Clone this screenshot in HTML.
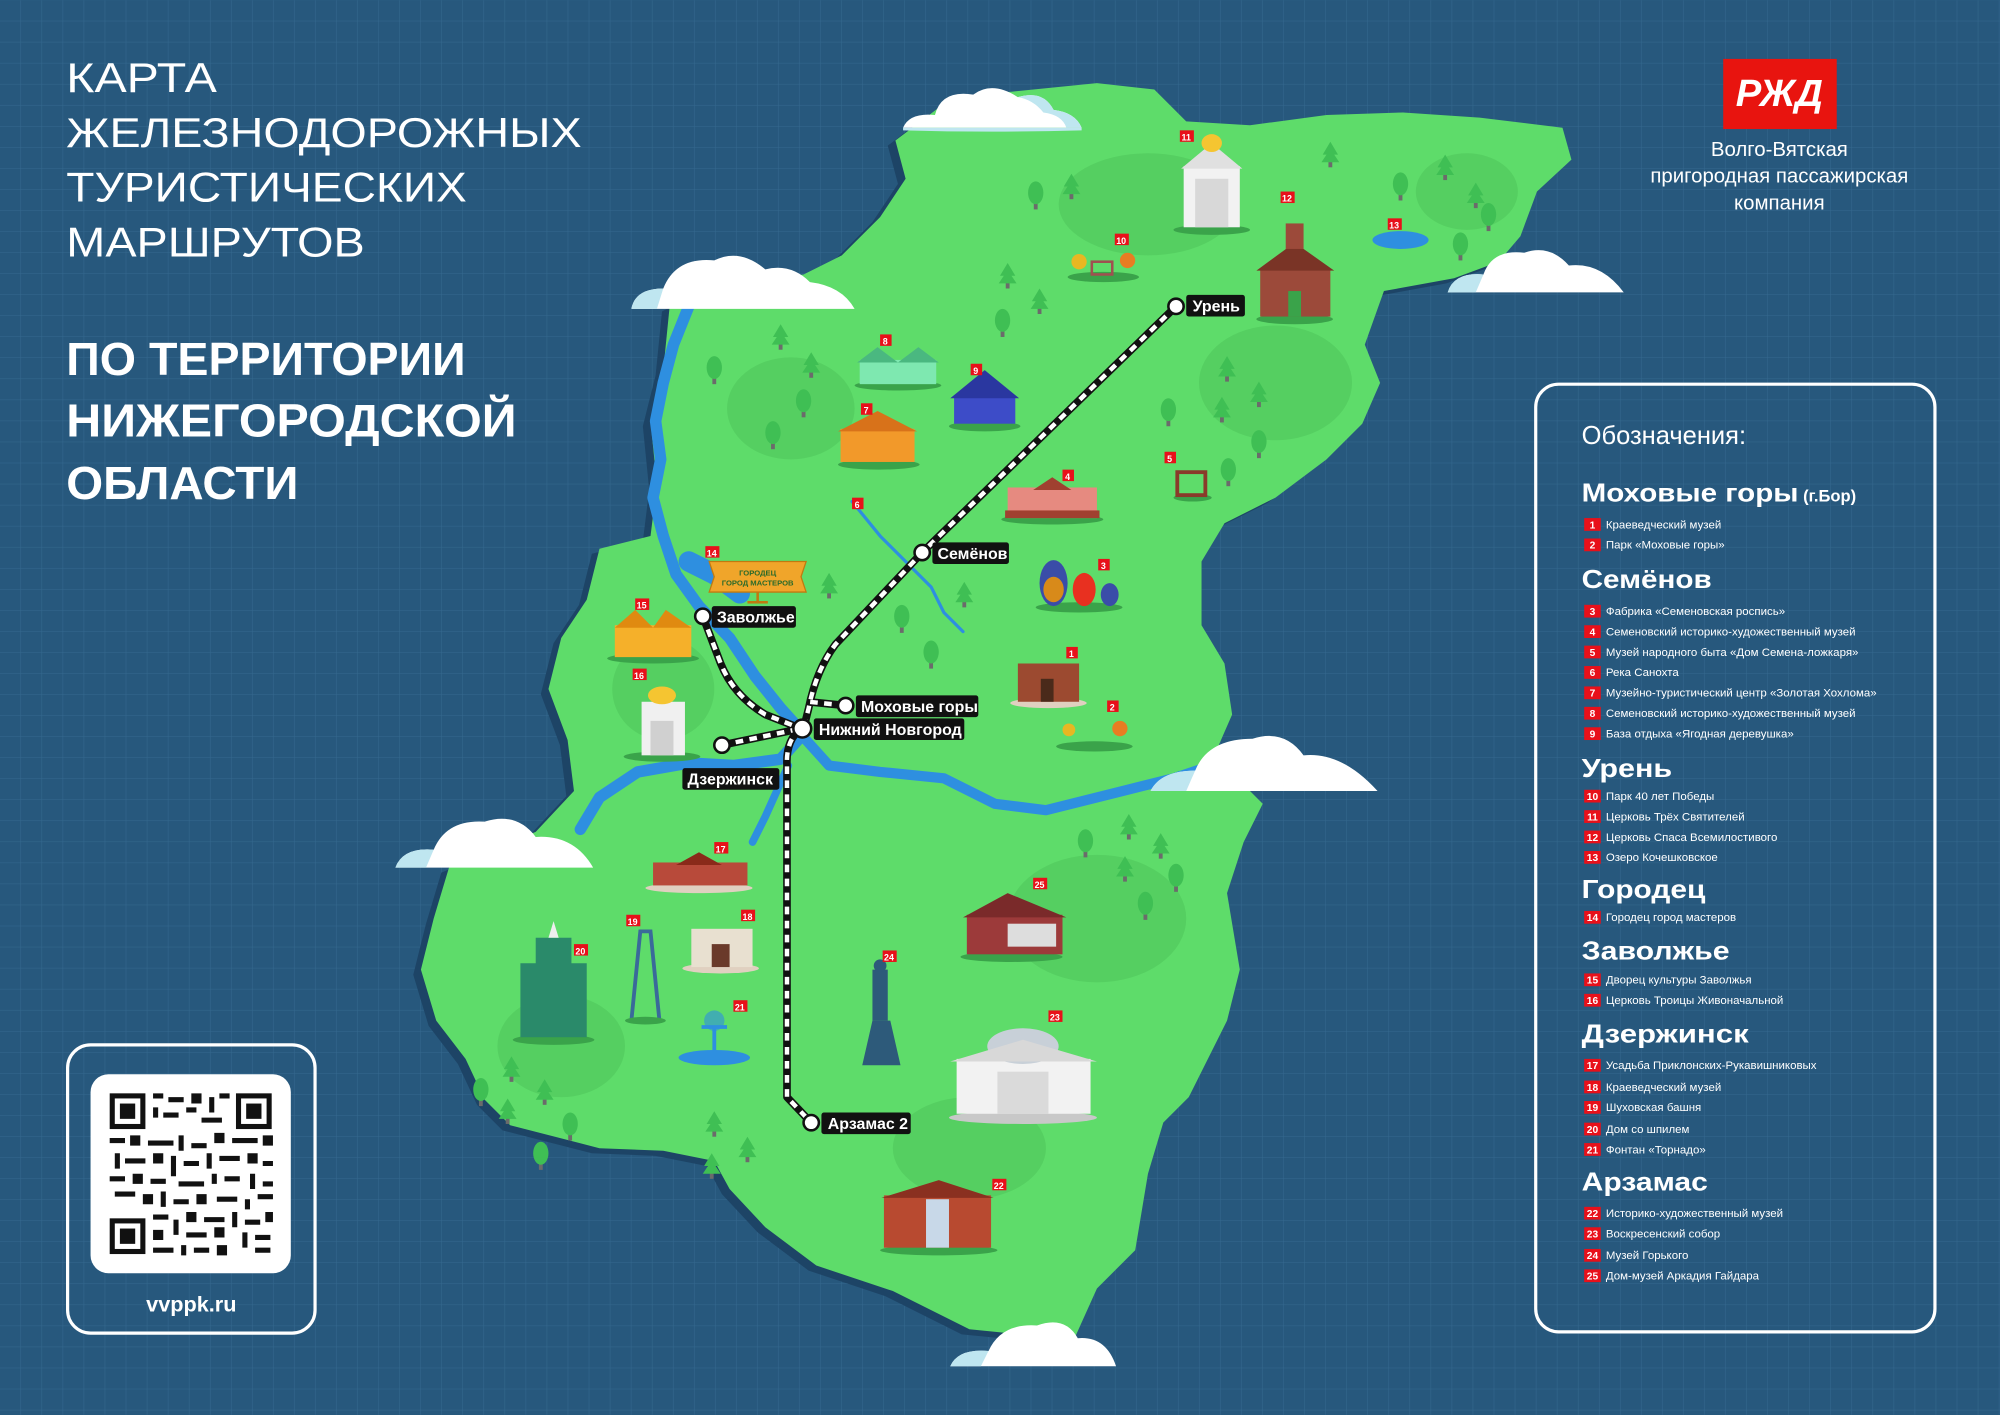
<!DOCTYPE html>
<html><head><meta charset="utf-8"><style>
html,body{margin:0;padding:0;background:#27587d;}
svg{display:block}
text{font-family:"Liberation Sans","DejaVu Sans",sans-serif;}
</style></head><body>
<svg width="2000" height="1415" viewBox="0 0 1568 1109" xmlns="http://www.w3.org/2000/svg">
<defs>
<pattern id="g" width="16.5" height="16.5" patternUnits="userSpaceOnUse">
<path d="M16.5 0V16.5M0 16.5H16.5" stroke="#35698f" stroke-width="0.8" fill="none"/>
</pattern>
<g id="tree"><rect x="-1.5" y="0" width="3" height="6" fill="#6b6b6b"/><path d="M0,-14 L6,-4 L3,-4 L7,2 L-7,2 L-3,-4 L-6,-4Z" fill="#3fbf54"/></g>
<g id="rtree"><rect x="-1.5" y="2" width="3" height="7" fill="#6b6b6b"/><ellipse cx="0" cy="-4" rx="6" ry="9" fill="#3fbf54"/></g>
</defs>
<rect width="1568" height="1109" fill="#27587d"/>
<rect width="1568" height="1109" fill="url(#g)"/>

<path transform="translate(-6,4)" fill="#1d4466" d="M735,85 L790,72 L860,65 L905,70 L930,95 L980,98 L1040,90 L1100,88 L1160,92 L1225,100 L1232,125 L1205,150 L1192,185 L1175,205 L1140,218 L1085,228 L1070,270 L1082,300 L1068,332 L1040,360 L1000,390 L960,410 L942,440 L942,490 L960,520 L966,560 L952,592 L990,630 L975,660 L962,700 L972,760 L962,800 L932,860 L912,880 L900,920 L890,980 L860,1010 L842,1050 L760,1042 L700,1012 L640,992 L600,962 L572,932 L560,910 L520,902 L470,900 L400,882 L380,862 L365,830 L342,800 L330,760 L340,720 L352,680 L420,652 L450,620 L445,580 L430,540 L440,500 L460,470 L470,430 L510,420 L515,380 L510,330 L520,290 L525,240 L560,222 L630,215 L660,200 L690,170 L710,140 L702,110Z"/>
<path fill="#5edc6a" d="M735,85 L790,72 L860,65 L905,70 L930,95 L980,98 L1040,90 L1100,88 L1160,92 L1225,100 L1232,125 L1205,150 L1192,185 L1175,205 L1140,218 L1085,228 L1070,270 L1082,300 L1068,332 L1040,360 L1000,390 L960,410 L942,440 L942,490 L960,520 L966,560 L952,592 L990,630 L975,660 L962,700 L972,760 L962,800 L932,860 L912,880 L900,920 L890,980 L860,1010 L842,1050 L760,1042 L700,1012 L640,992 L600,962 L572,932 L560,910 L520,902 L470,900 L400,882 L380,862 L365,830 L342,800 L330,760 L340,720 L352,680 L420,652 L450,620 L445,580 L430,540 L440,500 L460,470 L470,430 L510,420 L515,380 L510,330 L520,290 L525,240 L560,222 L630,215 L660,200 L690,170 L710,140 L702,110Z"/>
<g fill="#55cf61">
<ellipse cx="900" cy="160" rx="70" ry="40"/><ellipse cx="1000" cy="300" rx="60" ry="45"/>
<ellipse cx="620" cy="320" rx="50" ry="40"/><ellipse cx="860" cy="720" rx="70" ry="50"/>
<ellipse cx="440" cy="820" rx="50" ry="40"/><ellipse cx="760" cy="900" rx="60" ry="40"/>
<ellipse cx="520" cy="540" rx="40" ry="40"/><ellipse cx="1150" cy="150" rx="40" ry="30"/>
</g>

<g fill="none" stroke="#2e8fe0" stroke-linecap="round" stroke-linejoin="round">
<path d="M540,240 L528,270 L520,300 L514,330 L518,360 L512,390 L520,420 L530,450 L548,475 L572,500 L592,530 L612,555 L630,575 L612,595 L575,600 L540,598 L500,605 L470,625 L455,650" stroke-width="9"/>
<path d="M632,580 L650,600 L690,605 L740,610 L780,630 L820,635 L880,620 L920,610 L950,600" stroke-width="8"/>
<path d="M540,440 L560,450 L580,465" stroke-width="16"/>
<path d="M668,393 L690,420 L710,440 L730,460 L740,480 L755,495" stroke-width="2.5"/>
<path d="M618,600 L600,640 L590,660" stroke-width="6"/>
</g>
<ellipse cx="1098" cy="188" rx="22" ry="7" fill="#2e8fe0"/>

<g>
<use href="#tree" x="840" y="150"/><use href="#tree" x="1043" y="125"/><use href="#tree" x="1133" y="135"/><use href="#tree" x="1157" y="157"/>
<use href="#tree" x="790" y="220"/><use href="#tree" x="815" y="240"/><use href="#tree" x="612" y="268"/><use href="#tree" x="636" y="290"/>
<use href="#tree" x="962" y="293"/><use href="#tree" x="987" y="313"/><use href="#tree" x="958" y="325"/><use href="#tree" x="650" y="463"/>
<use href="#tree" x="756" y="470"/><use href="#tree" x="885" y="652"/><use href="#tree" x="910" y="667"/><use href="#tree" x="882" y="685"/>
<use href="#tree" x="401" y="842"/><use href="#tree" x="427" y="860"/><use href="#tree" x="398" y="875"/><use href="#tree" x="560" y="885"/>
<use href="#tree" x="586" y="905"/><use href="#tree" x="558" y="918"/>
<use href="#rtree" x="812" y="155"/><use href="#rtree" x="1098" y="148"/><use href="#rtree" x="1167" y="172"/><use href="#rtree" x="1145" y="195"/>
<use href="#rtree" x="786" y="255"/><use href="#rtree" x="560" y="292"/><use href="#rtree" x="630" y="318"/><use href="#rtree" x="606" y="343"/>
<use href="#rtree" x="916" y="325"/><use href="#rtree" x="987" y="350"/><use href="#rtree" x="963" y="372"/><use href="#rtree" x="707" y="487"/>
<use href="#rtree" x="730" y="515"/><use href="#rtree" x="851" y="663"/><use href="#rtree" x="922" y="690"/><use href="#rtree" x="898" y="712"/>
<use href="#rtree" x="377" y="858"/><use href="#rtree" x="447" y="885"/><use href="#rtree" x="424" y="908"/>
</g>

<g>
<ellipse cx="950" cy="180" rx="30" ry="4" fill="#3aa34a"/>
<rect x="928" y="130" width="44" height="48" fill="#f2f2f2"/><path d="M926,132 L950,112 L974,132Z" fill="#e0e0e0"/><ellipse cx="950" cy="112" rx="8" ry="7" fill="#f5c531"/><rect x="937" y="140" width="26" height="38" fill="#d8d8d8"/>
<ellipse cx="1015" cy="250" rx="30" ry="4" fill="#3aa34a"/>
<rect x="988" y="210" width="55" height="38" fill="#9c4a3a"/><path d="M985,212 L1015,190 L1046,212Z" fill="#7a3426"/><rect x="1008" y="175" width="14" height="20" fill="#9c4a3a"/><rect x="1010" y="228" width="10" height="20" fill="#3aa34a"/>
<ellipse cx="865" cy="217" rx="28" ry="4" fill="#3aa34a"/><circle cx="884" cy="204" r="6" fill="#e87d22"/><circle cx="846" cy="205" r="6" fill="#e8b722"/><rect x="856" y="205" width="16" height="10" fill="none" stroke="#a05050" stroke-width="2"/>
<ellipse cx="704" cy="302" rx="34" ry="4" fill="#3aa34a"/><rect x="674" y="282" width="60" height="19" fill="#7ee8b0"/><path d="M672,284 L688,272 L704,284 L720,272 L736,284Z" fill="#4ab880"/>
<ellipse cx="772" cy="334" rx="28" ry="4" fill="#3aa34a"/><rect x="748" y="310" width="48" height="22" fill="#3d4cc8"/><path d="M745,312 L772,290 L799,312Z" fill="#2a37a0"/>
<ellipse cx="689" cy="364" rx="32" ry="4" fill="#3aa34a"/><rect x="659" y="336" width="58" height="26" fill="#f2992a"/><path d="M657,338 L688,322 L719,338Z" fill="#d8721a"/>
<ellipse cx="825" cy="407" rx="40" ry="4" fill="#3aa34a"/><rect x="790" y="382" width="70" height="24" fill="#e68a80"/><rect x="788" y="400" width="74" height="6" fill="#a04030"/><path d="M810,384 L825,374 L840,384Z" fill="#a04030"/>
<ellipse cx="935" cy="390" rx="15" ry="3" fill="#3aa34a"/><rect x="923" y="370" width="22" height="18" fill="none" stroke="#8a3a2a" stroke-width="3"/>
<ellipse cx="846" cy="476" rx="34" ry="4" fill="#3aa34a"/><ellipse cx="826" cy="457" rx="11" ry="18" fill="#3a4da8"/><ellipse cx="826" cy="462" rx="8" ry="10" fill="#d88a1a"/><ellipse cx="850" cy="462" rx="9" ry="13" fill="#e83020"/><ellipse cx="870" cy="466" rx="7" ry="9" fill="#3a4da8"/>
<ellipse cx="822" cy="551" rx="30" ry="4" fill="#e0d0c0"/><rect x="798" y="520" width="48" height="30" fill="#9c4a30"/><rect x="816" y="532" width="10" height="18" fill="#4a2a1a"/>
<ellipse cx="858" cy="585" rx="30" ry="4" fill="#3aa34a"/><circle cx="878" cy="571" r="6" fill="#e87d22"/><circle cx="838" cy="572" r="5" fill="#e8b722"/>
<path d="M556,440 L632,440 L628,452 L632,464 L556,464 L560,452Z" fill="#f0a52a" stroke="#c07a10"/><text x="594" y="451" font-size="6" text-anchor="middle" fill="#2a6a2a" font-family="Liberation Serif,serif" font-weight="bold">ГОРОДЕЦ</text><text x="594" y="459" font-size="6" text-anchor="middle" fill="#2a6a2a" font-family="Liberation Serif,serif" font-weight="bold">ГОРОД МАСТЕРОВ</text><rect x="593" y="464" width="2" height="8" fill="#c07a10"/><rect x="586" y="471" width="16" height="2" fill="#c07a10"/>
<ellipse cx="512" cy="516" rx="36" ry="4" fill="#3aa34a"/><rect x="482" y="490" width="60" height="25" fill="#f5b02a"/><path d="M482,492 L498,478 L512,492 L522,478 L542,492Z" fill="#e08a10"/>
<ellipse cx="519" cy="593" rx="30" ry="4" fill="#3aa34a"/><rect x="503" y="550" width="34" height="42" fill="#f0f0f0"/><ellipse cx="519" cy="545" rx="11" ry="7" fill="#f5c531"/><rect x="510" y="565" width="18" height="27" fill="#d0d0d0"/>
<ellipse cx="548" cy="696" rx="42" ry="4" fill="#e0d0c0"/><rect x="512" y="676" width="74" height="18" fill="#b84a3a"/><path d="M530,678 L548,668 L566,678Z" fill="#8a2a1a"/>
<ellipse cx="565" cy="759" rx="30" ry="4" fill="#e0d0c0"/><rect x="542" y="728" width="48" height="30" fill="#e8e0d0"/><rect x="558" y="740" width="14" height="18" fill="#6a3a2a"/>
<path d="M495,800 L502,730 L510,730 L517,800Z" fill="none" stroke="#3a6a9a" stroke-width="3"/><ellipse cx="506" cy="800" rx="16" ry="3" fill="#3aa34a"/>
<ellipse cx="434" cy="815" rx="32" ry="4" fill="#3aa34a"/><rect x="408" y="755" width="52" height="58" fill="#2a8a6a"/><rect x="420" y="735" width="28" height="22" fill="#2a8a6a"/><path d="M434,722 L430,735 L438,735Z" fill="#eee"/>
<ellipse cx="560" cy="829" rx="28" ry="6" fill="#2e8fe0"/><path d="M560,825 L560,805 M550,805 L570,805" stroke="#2e8fe0" stroke-width="3"/><circle cx="560" cy="800" r="8" fill="#2e8fe0" opacity="0.6"/>
<ellipse cx="793" cy="750" rx="40" ry="4" fill="#3aa34a"/><rect x="758" y="717" width="75" height="31" fill="#9c3a3a"/><path d="M755,719 L790,700 L836,719Z" fill="#7a2a2a"/><rect x="790" y="724" width="38" height="18" fill="#ddd"/>
<path d="M676,835 L684,800 L698,800 L706,835Z" fill="#2d5a7a"/><rect x="684" y="760" width="12" height="40" fill="#2d5a7a"/><circle cx="690" cy="757" r="5" fill="#2d5a7a"/>
<ellipse cx="802" cy="876" rx="58" ry="5" fill="#c8c8c8"/><rect x="750" y="830" width="105" height="43" fill="#f2f2f2"/><ellipse cx="802" cy="820" rx="28" ry="14" fill="#c8d0d8"/><path d="M745,832 L802,815 L860,832Z" fill="#d8d8d8"/><rect x="782" y="840" width="40" height="33" fill="#dadada"/>
<ellipse cx="736" cy="980" rx="46" ry="4" fill="#3aa34a"/><rect x="693" y="937" width="84" height="41" fill="#b84a30"/><path d="M691,939 L736,925 L779,939Z" fill="#8a3020"/><rect x="726" y="940" width="18" height="38" fill="#c8d8e8"/>
</g>

<g font-size="7" font-weight="bold" fill="#fff" text-anchor="middle">
<g fill="#e8101a"><rect x="925" y="102" width="11" height="9"/><rect x="1004" y="150" width="11" height="9"/><rect x="1088" y="171" width="11" height="9"/><rect x="874" y="183" width="11" height="9"/><rect x="690" y="262" width="9" height="9"/><rect x="761" y="285" width="9" height="9"/><rect x="675" y="316" width="9" height="9"/><rect x="913" y="354" width="9" height="9"/><rect x="833" y="368" width="9" height="9"/><rect x="668" y="390" width="9" height="9"/><rect x="861" y="438" width="9" height="9"/><rect x="553" y="428" width="11" height="9"/><rect x="498" y="469" width="11" height="9"/><rect x="496" y="524" width="11" height="9"/><rect x="836" y="507" width="9" height="9"/><rect x="868" y="549" width="9" height="9"/><rect x="560" y="660" width="11" height="9"/><rect x="491" y="717" width="11" height="9"/><rect x="581" y="713" width="11" height="9"/><rect x="450" y="740" width="11" height="9"/><rect x="575" y="784" width="11" height="9"/><rect x="810" y="688" width="11" height="9"/><rect x="692" y="745" width="11" height="9"/><rect x="822" y="792" width="11" height="9"/><rect x="778" y="924" width="11" height="9"/></g>
<text x="930" y="110">11</text><text x="1009" y="158">12</text><text x="1093" y="179">13</text><text x="879" y="191">10</text><text x="694" y="270">8</text><text x="765" y="293">9</text><text x="679" y="324">7</text><text x="917" y="362">5</text><text x="837" y="376">4</text><text x="672" y="398">6</text><text x="865" y="446">3</text><text x="558" y="436">14</text><text x="503" y="477">15</text><text x="501" y="532">16</text><text x="840" y="515">1</text><text x="872" y="557">2</text><text x="565" y="668">17</text><text x="496" y="725">19</text><text x="586" y="721">18</text><text x="455" y="748">20</text><text x="580" y="792">21</text><text x="815" y="696">25</text><text x="697" y="753">24</text><text x="827" y="800">23</text><text x="783" y="932">22</text>
</g>

<g fill="none" stroke-linecap="butt" stroke-linejoin="round">
<g stroke="#111" stroke-width="6">
<path d="M922,240 L723,433 L655,505 Q640,525 634,555 L630,571"/>
<path d="M551,483 L565,520 Q575,545 600,560 L628,571"/>
<path d="M566,584 L628,571"/>
<path d="M663,553 L634,550"/>
<path d="M628,571 Q616,580 617,600 L617,860 L636,880"/>
</g>
<g stroke="#fff" stroke-width="3.5" stroke-dasharray="6 5">
<path d="M922,240 L723,433 L655,505 Q640,525 634,555 L630,571"/>
<path d="M551,483 L565,520 Q575,545 600,560 L628,571"/>
<path d="M566,584 L628,571"/>
<path d="M663,553 L634,550"/>
<path d="M628,571 Q616,580 617,600 L617,860 L636,880"/>
</g>
</g>

<g font-size="12.5" font-weight="bold" fill="#fff">
<g fill="#111"><rect x="930" y="231" width="46" height="17" rx="2"/><rect x="731" y="425" width="60" height="17" rx="2"/><rect x="558" y="475" width="66" height="17" rx="2"/><rect x="671" y="545" width="96" height="17" rx="2"/><rect x="638" y="563" width="118" height="17" rx="2"/><rect x="535" y="602" width="76" height="17" rx="2"/><rect x="644" y="872" width="70" height="17" rx="2"/></g>
<text x="935" y="244">Урень</text><text x="735" y="438">Семёнов</text><text x="562" y="488">Заволжье</text><text x="675" y="558">Моховые горы</text><text x="642" y="576">Нижний Новгород</text><text x="539" y="615">Дзержинск</text><text x="649" y="885">Арзамас 2</text>
<g fill="#fff" stroke="#111" stroke-width="2"><circle cx="922" cy="240" r="6"/><circle cx="723" cy="433" r="6"/><circle cx="551" cy="483" r="6"/><circle cx="663" cy="553" r="6"/><circle cx="629" cy="571" r="7"/><circle cx="566" cy="584" r="6"/><circle cx="636" cy="880" r="6"/></g>
</g>

<g>
<g transform="translate(708,68)"><path d="M0,32 Q5,20 25,22 Q30,2 55,6 Q70,-5 90,8 Q110,2 118,18 Q135,20 140,32Z" fill="#fff"/><path d="M0,32 L140,32 L140,34 Q70,36 0,34Z" fill="#bfe6f0"/><path d="M90,8 Q110,2 118,18 Q135,20 140,32 L128,32 Q125,22 110,20 Q102,10 90,8Z" fill="#bfe6f0"/></g>
<g transform="translate(495,196)"><path d="M0,46 Q3,30 25,30 Q35,5 65,8 Q85,-2 105,15 Q125,10 140,25 Q165,28 175,46Z" fill="#fff"/><path d="M0,46 Q3,30 25,30 L20,46Z" fill="#bfe6f0"/></g>
<g transform="translate(1135,193)"><path d="M0,36 Q5,20 28,22 Q35,2 60,5 Q80,-2 95,15 Q120,12 138,36Z" fill="#fff"/><path d="M0,36 Q5,20 28,22 L22,36Z" fill="#bfe6f0"/></g>
<g transform="translate(310,638)"><path d="M0,42 Q6,26 30,28 Q40,4 70,6 Q95,-2 110,18 Q140,16 155,42Z" fill="#fff"/><path d="M0,42 Q6,26 30,28 L24,42Z" fill="#bfe6f0"/></g>
<g transform="translate(902,574)"><path d="M0,46 Q8,30 35,30 Q45,5 80,5 Q105,-3 120,18 Q150,15 178,46Z" fill="#fff"/><path d="M0,46 Q8,30 35,30 L28,46Z" fill="#bfe6f0"/></g>
<g transform="translate(745,1033)"><path d="M0,38 Q6,24 30,26 Q40,4 68,6 Q90,-2 100,16 Q122,14 130,38Z" fill="#fff"/><path d="M0,38 Q6,24 30,26 L24,38Z" fill="#bfe6f0"/></g>
</g>

<g fill="#fff">
<text x="52" y="72" font-size="33" textLength="118" lengthAdjust="spacingAndGlyphs">КАРТА</text>
<text x="52" y="115" font-size="33" textLength="404" lengthAdjust="spacingAndGlyphs">ЖЕЛЕЗНОДОРОЖНЫХ</text>
<text x="52" y="158" font-size="33" textLength="314" lengthAdjust="spacingAndGlyphs">ТУРИСТИЧЕСКИХ</text>
<text x="52" y="201" font-size="33" textLength="234" lengthAdjust="spacingAndGlyphs">МАРШРУТОВ</text>
<text x="52" y="294" font-size="36" font-weight="bold" textLength="313" lengthAdjust="spacingAndGlyphs">ПО ТЕРРИТОРИИ</text>
<text x="52" y="342" font-size="36" font-weight="bold" textLength="353" lengthAdjust="spacingAndGlyphs">НИЖЕГОРОДСКОЙ</text>
<text x="52" y="391" font-size="36" font-weight="bold" textLength="182" lengthAdjust="spacingAndGlyphs">ОБЛАСТИ</text>
</g>

<rect x="1351" y="46" width="89" height="55" fill="#e8140f"/>
<text x="1395" y="83" font-size="30" font-weight="bold" font-style="italic" fill="#fff" text-anchor="middle">РЖД</text>
<g fill="#fff" font-size="16" text-anchor="middle">
<text x="1395" y="122">Волго-Вятская</text>
<text x="1395" y="143">пригородная пассажирская</text>
<text x="1395" y="164">компания</text>
</g>

<rect x="1204" y="301" width="313" height="743" rx="18" fill="none" stroke="#fff" stroke-width="2.5"/>
<g fill="#fff">
<text x="1240" y="348" font-size="20">Обозначения:</text>
<g font-size="20" font-weight="bold">
<text x="1240" y="393"><tspan textLength="170" lengthAdjust="spacingAndGlyphs">Моховые горы</tspan><tspan font-size="13"> (г.Бор)</tspan></text>
<text x="1240" y="461" textLength="102" lengthAdjust="spacingAndGlyphs">Семёнов</text>
<text x="1240" y="609" textLength="71" lengthAdjust="spacingAndGlyphs">Урень</text>
<text x="1240" y="704" textLength="97" lengthAdjust="spacingAndGlyphs">Городец</text>
<text x="1240" y="752" textLength="116" lengthAdjust="spacingAndGlyphs">Заволжье</text>
<text x="1240" y="817" textLength="131" lengthAdjust="spacingAndGlyphs">Дзержинск</text>
<text x="1240" y="933" textLength="99" lengthAdjust="spacingAndGlyphs">Арзамас</text>
</g>
<g font-size="9">
<text x="1259" y="414">Краеведческий музей</text>
<text x="1259" y="430">Парк «Моховые горы»</text>
<text x="1259" y="482">Фабрика «Семеновская роспись»</text>
<text x="1259" y="498">Семеновский историко-художественный музей</text>
<text x="1259" y="514">Музей народного быта «Дом Семена-ложкаря»</text>
<text x="1259" y="530">Река Санохта</text>
<text x="1259" y="546">Музейно-туристический центр «Золотая Хохлома»</text>
<text x="1259" y="562">Семеновский историко-художественный музей</text>
<text x="1259" y="578">База отдыха «Ягодная деревушка»</text>
<text x="1259" y="627">Парк 40 лет Победы</text>
<text x="1259" y="643">Церковь Трёх Святителей</text>
<text x="1259" y="659">Церковь Спаса Всемилостивого</text>
<text x="1259" y="675">Озеро Кочешковское</text>
<text x="1259" y="722">Городец город мастеров</text>
<text x="1259" y="771">Дворец культуры Заволжья</text>
<text x="1259" y="787">Церковь Троицы Живоначальной</text>
<text x="1259" y="838">Усадьба Приклонских-Рукавишниковых</text>
<text x="1259" y="855">Краеведческий музей</text>
<text x="1259" y="871">Шуховская башня</text>
<text x="1259" y="888">Дом со шпилем</text>
<text x="1259" y="904">Фонтан «Торнадо»</text>
<text x="1259" y="954">Историко-художественный музей</text>
<text x="1259" y="970">Воскресенский собор</text>
<text x="1259" y="987">Музей Горького</text>
<text x="1259" y="1003">Дом-музей Аркадия Гайдара</text>
</g>
</g>
<g fill="#e8101a">
<rect x="1242" y="406" width="13" height="10"/><rect x="1242" y="422" width="13" height="10"/>
<rect x="1242" y="474" width="13" height="10"/><rect x="1242" y="490" width="13" height="10"/><rect x="1242" y="506" width="13" height="10"/><rect x="1242" y="522" width="13" height="10"/><rect x="1242" y="538" width="13" height="10"/><rect x="1242" y="554" width="13" height="10"/><rect x="1242" y="570" width="13" height="10"/>
<rect x="1242" y="619" width="13" height="10"/><rect x="1242" y="635" width="13" height="10"/><rect x="1242" y="651" width="13" height="10"/><rect x="1242" y="667" width="13" height="10"/>
<rect x="1242" y="714" width="13" height="10"/>
<rect x="1242" y="763" width="13" height="10"/><rect x="1242" y="779" width="13" height="10"/>
<rect x="1242" y="830" width="13" height="10"/><rect x="1242" y="847" width="13" height="10"/><rect x="1242" y="863" width="13" height="10"/><rect x="1242" y="880" width="13" height="10"/><rect x="1242" y="896" width="13" height="10"/>
<rect x="1242" y="946" width="13" height="10"/><rect x="1242" y="962" width="13" height="10"/><rect x="1242" y="979" width="13" height="10"/><rect x="1242" y="995" width="13" height="10"/>
</g>
<g fill="#fff" font-size="8" font-weight="bold" text-anchor="middle">
<text x="1248.5" y="414">1</text><text x="1248.5" y="430">2</text>
<text x="1248.5" y="482">3</text><text x="1248.5" y="498">4</text><text x="1248.5" y="514">5</text><text x="1248.5" y="530">6</text><text x="1248.5" y="546">7</text><text x="1248.5" y="562">8</text><text x="1248.5" y="578">9</text>
<text x="1248.5" y="627">10</text><text x="1248.5" y="643">11</text><text x="1248.5" y="659">12</text><text x="1248.5" y="675">13</text>
<text x="1248.5" y="722">14</text>
<text x="1248.5" y="771">15</text><text x="1248.5" y="787">16</text>
<text x="1248.5" y="838">17</text><text x="1248.5" y="855">18</text><text x="1248.5" y="871">19</text><text x="1248.5" y="888">20</text><text x="1248.5" y="904">21</text>
<text x="1248.5" y="954">22</text><text x="1248.5" y="970">23</text><text x="1248.5" y="987">24</text><text x="1248.5" y="1003">25</text>
</g>

<rect x="53" y="819" width="194" height="226" rx="18" fill="none" stroke="#fff" stroke-width="2.5"/>
<rect x="71" y="842" width="157" height="156" rx="14" fill="#fff"/>
<g fill="#111">
<rect x="86" y="857" width="28" height="28"/><rect x="90" y="861" width="20" height="20" fill="#fff"/><rect x="94" y="865" width="12" height="12"/>
<rect x="185" y="857" width="28" height="28"/><rect x="189" y="861" width="20" height="20" fill="#fff"/><rect x="193" y="865" width="12" height="12"/>
<rect x="86" y="955" width="28" height="28"/><rect x="90" y="959" width="20" height="20" fill="#fff"/><rect x="94" y="963" width="12" height="12"/>
<path d="M120,857h8v4h-8zM132,860h12v4h-12zM150,857h8v8h-8zM164,860h4v12h-4zM172,857h8v4h-8zM120,868h4v8h-4zM128,872h12v4h-12zM146,868h8v4h-8zM158,876h16v4h-16zM86,892h12v4h-12zM102,890h8v8h-8zM116,894h20v4h-20zM140,890h4v12h-4zM150,896h12v4h-12zM168,888h8v8h-8zM182,892h20v4h-20zM206,890h8v8h-8zM90,904h4v12h-4zM98,908h16v4h-16zM120,904h8v8h-8zM134,906h4v16h-4zM144,910h12v4h-12zM162,904h4v12h-4zM172,906h16v4h-16zM194,904h8v8h-8zM206,910h8v4h-8zM86,922h12v4h-12zM104,920h8v8h-8zM118,924h12v4h-12zM140,926h20v4h-20zM166,920h4v8h-4zM176,922h12v4h-12zM196,920h4v12h-4zM206,926h8v4h-8zM90,934h16v4h-16zM112,936h8v8h-8zM126,934h4v12h-4zM136,940h12v4h-12zM154,936h8v8h-8zM170,938h16v4h-16zM192,940h4v8h-4zM202,936h12v4h-12zM120,952h12v4h-12zM136,956h4v12h-4zM146,950h8v8h-8zM160,954h16v4h-16zM182,950h4v12h-4zM192,956h12v4h-12zM208,950h6v8h-6zM120,964h8v8h-8zM146,966h16v4h-16zM168,962h8v8h-8zM190,966h4v12h-4zM200,968h12v4h-12zM120,978h16v4h-16zM142,976h4v8h-4zM152,978h12v4h-12zM170,976h8v8h-8zM200,978h12v4h-12z"/>
</g>
<text x="150" y="1028" font-size="17" font-weight="bold" fill="#fff" text-anchor="middle">vvppk.ru</text>
</svg>
</body></html>
